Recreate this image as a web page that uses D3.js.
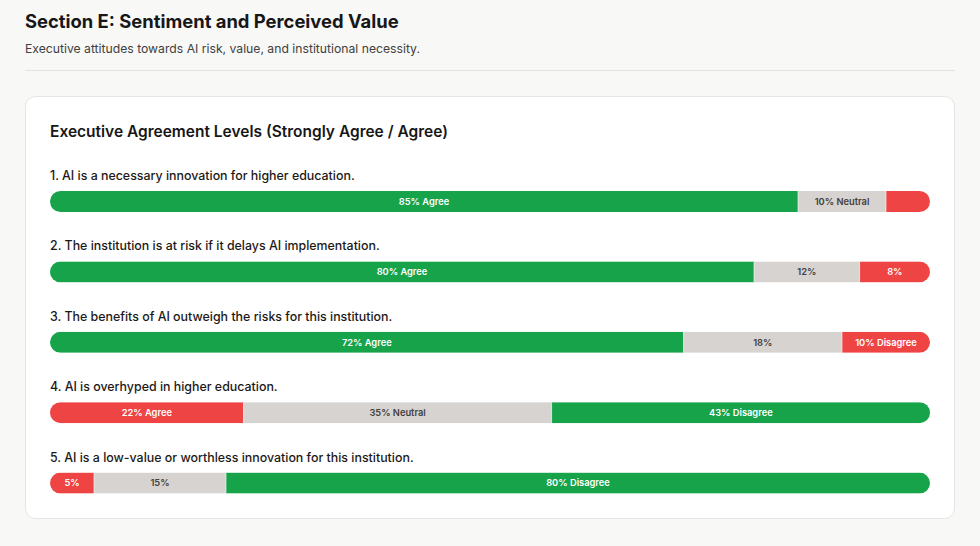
<!DOCTYPE html>
<html><head><meta charset="utf-8">
<script src="https://cdn.jsdelivr.net/npm/d3@7"></script>
<style>
html,body{margin:0;padding:0;background:#f8f8f7;}
svg{display:block;font-family:Inter,"Noto Sans",sans-serif;}
</style></head>
<body><svg id="c" width="980" height="546"></svg>
<script>
const questions = [
  "1. AI is a necessary innovation for higher education.",
  "2. The institution is at risk if it delays AI implementation.",
  "3. The benefits of AI outweigh the risks for this institution.",
  "4. AI is overhyped in higher education.",
  "5. AI is a low-value or worthless innovation for this institution."
];
const agree    = [85, 80, 72, 22, 5];
const neutral  = [10, 12, 18, 35, 15];
const disagree = [5, 8, 10, 43, 80];
const agreeLabels    = ["85% Agree", "80% Agree", "72% Agree", "22% Agree", "5%"];
const neutralLabels  = ["10% Neutral", "12%", "18%", "35% Neutral", "15%"];
const disagreeLabels = ["", "8%", "10% Disagree", "43% Disagree", "80% Disagree"];
const positiveStatement = [true, true, true, false, false];

const colors = {good:"#16a34a", bad:"#ef4444", neutral:"#d6d3d1"};

const svg = d3.select("#c");
svg.append("text").attr("x",25).attr("y",28).attr("font-size",18.4).attr("font-weight",700).attr("fill","#171717").text("Section E: Sentiment and Perceived Value");
svg.append("text").attr("x",25).attr("y",53).attr("font-size",12.2).attr("fill","#404040").text("Executive attitudes towards AI risk, value, and institutional necessity.");
svg.append("line").attr("x1",25).attr("x2",955).attr("y1",70.5).attr("y2",70.5).attr("stroke","#e2e2e0");
svg.append("rect").attr("x",25.5).attr("y",96.5).attr("width",929).attr("height",422).attr("rx",10).attr("fill","#fff").attr("stroke","#e5e5e3");
svg.append("text").attr("x",50).attr("y",137).attr("font-size",15.5).attr("font-weight",600).attr("fill","#171717").text("Executive Agreement Levels (Strongly Agree / Agree)");

const x = d3.scaleLinear().domain([0,100]).range([50,930]);
const y = d3.scaleBand().domain(d3.range(questions.length)).range([161,513]);
const barH = 21;

questions.forEach((q,i)=>{
  const g = svg.append("g").attr("transform",`translate(0,${y(i)})`);
  g.append("text").attr("x",50).attr("y",19).attr("font-size",12.4).attr("font-weight",500).attr("fill","#1c1917").text(q);
  const segs = [
    {v:agree[i], label:agreeLabels[i], color: positiveStatement[i]?colors.good:colors.bad, tc:"#fff"},
    {v:neutral[i], label:neutralLabels[i], color: colors.neutral, tc:"#44403c"},
    {v:disagree[i], label:disagreeLabels[i], color: positiveStatement[i]?colors.bad:colors.good, tc:"#fff"}
  ];
  let acc = 0;
  segs.forEach(s=>{ s.x0 = acc; acc += s.v; s.x1 = acc; });
  const clipId = "clip"+i;
  g.append("clipPath").attr("id",clipId).append("rect")
    .attr("x",x(0)).attr("y",30).attr("width",x(100)-x(0)).attr("height",barH).attr("rx",barH/2);
  const bar = g.append("g").attr("clip-path",`url(#${clipId})`);
  bar.selectAll("rect").data(segs).join("rect")
    .attr("x",d=>x(d.x0)).attr("y",30).attr("width",d=>x(d.x1)-x(d.x0)).attr("height",barH)
    .attr("fill",d=>d.color);
  bar.selectAll("line").data(segs.slice(1)).join("line")
    .attr("x1",d=>x(d.x0)).attr("x2",d=>x(d.x0)).attr("y1",30).attr("y2",30+barH)
    .attr("stroke","#fff").attr("stroke-opacity",0.6).attr("stroke-width",1);
  g.selectAll("text.lbl").data(segs).join("text").attr("class","lbl")
    .attr("x",d=>(x(d.x0)+x(d.x1))/2).attr("y",30+barH/2).attr("dy","0.35em")
    .attr("text-anchor","middle").attr("font-size",9.3).attr("font-weight",600)
    .attr("fill",d=>d.tc).text(d=>d.label);
});
</script></body></html>
